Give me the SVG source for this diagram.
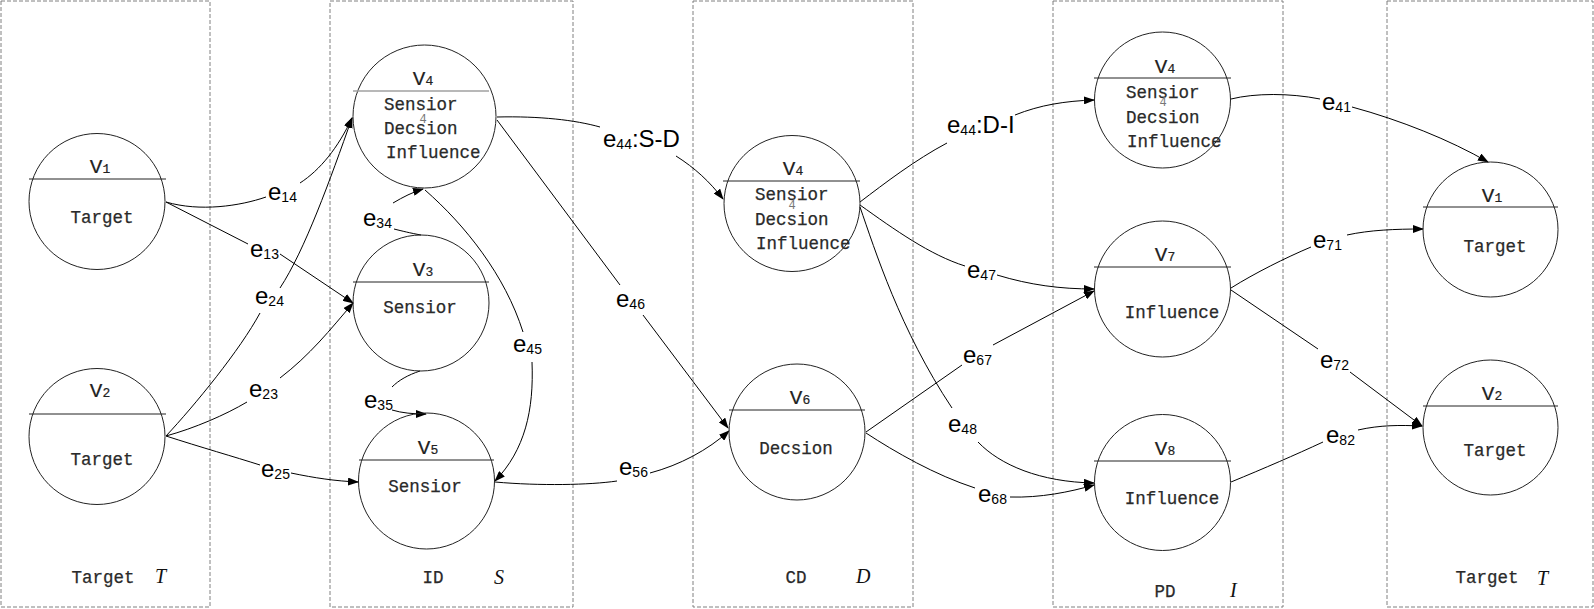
<svg xmlns="http://www.w3.org/2000/svg" width="1594" height="609" viewBox="0 0 1594 609">
<style>
.box{fill:none;stroke:#808080;stroke-width:1;stroke-dasharray:4 2}
.node{fill:#fff;stroke:#222;stroke-width:1}
.sep{stroke:#222;stroke-width:1}
.sepg{stroke:#a0a0a0;stroke-width:1.5}
.nt{font-family:"Liberation Mono",monospace;font-size:17.5px;fill:#2a2a2a;stroke:#2a2a2a;stroke-width:0.25}
.vl{font-family:"Liberation Mono",monospace;font-size:21px;fill:#222;stroke:#222;stroke-width:0.2}
.vs{font-size:13px}
.ov{font-family:"Liberation Mono",monospace;font-size:12px;fill:#777}
.it{font-family:"Liberation Serif",serif;font-style:italic;font-size:20px;fill:#111}
.el{font-family:"Liberation Sans",Arial,sans-serif;font-size:24px;fill:#000}
.es{font-size:14px}
.edge path{fill:none;stroke:#000;stroke-width:1}
</style>
<defs>
<marker id="ah" markerUnits="userSpaceOnUse" markerWidth="11" markerHeight="8" refX="10" refY="4" orient="auto">
<path d="M0,0 L11,4 L0,8 z" fill="#000"/>
</marker>
</defs>

<g id="boxes">
<rect class="box" x="1" y="1" width="209" height="606"/>
<rect class="box" x="330" y="1" width="243" height="606"/>
<rect class="box" x="693" y="1" width="220" height="606"/>
<rect class="box" x="1053" y="1" width="230" height="606"/>
<rect class="box" x="1387" y="1" width="206" height="606"/>
<text class="nt" x="103" y="583" text-anchor="middle">Target</text>
<text class="it" x="155" y="583">T</text>
<text class="nt" x="433" y="583" text-anchor="middle">ID</text>
<text class="it" x="494" y="584">S</text>
<text class="nt" x="796" y="583" text-anchor="middle">CD</text>
<text class="it" x="856" y="583">D</text>
<text class="nt" x="1165" y="597" text-anchor="middle">PD</text>
<text class="it" x="1230" y="597">I</text>
<text class="nt" x="1487" y="583" text-anchor="middle">Target</text>
<text class="it" x="1537" y="585">T</text>
</g>

<g id="connectors" class="edge">
<!-- e14 -->
<path d="M166,202 C200,212 240,206 266,197"/>
<path d="M300,183 C320,170 338,148 352,118" marker-end="url(#ah)"/>
<!-- e13 -->
<path d="M166,202 L248,244"/>
<path d="M280,254 L353,303" marker-end="url(#ah)"/>
<!-- e24 -->
<path d="M166,436 C195,405 240,350 260,313"/>
<path d="M280,288 C305,250 330,180 352,118" marker-end="url(#ah)"/>
<!-- e23 -->
<path d="M166,436 C195,428 225,415 247,402"/>
<path d="M280,378 C310,355 330,330 353,303" marker-end="url(#ah)"/>
<!-- e25 -->
<path d="M166,436 C200,447 235,457 260,465"/>
<path d="M291,473 C315,478 335,481 358,482" marker-end="url(#ah)"/>
<!-- e34 -->
<path d="M421,235 C410,233 402,231 394,229"/>
<path d="M393,203 C403,197 413,192 423,189" marker-end="url(#ah)"/>
<!-- e35 -->
<path d="M420,371 C408,375 399,380 392,387"/>
<path d="M392,410 C402,413 413,414 426,414" marker-end="url(#ah)"/>
<!-- e45 -->
<path d="M425,190 C465,225 505,275 523,332"/>
<path d="M532,362 C534,410 525,450 495,481" marker-end="url(#ah)"/>
<!-- e44:S-D -->
<path d="M497,117 C540,116 575,120 600,127"/>
<path d="M676,156 C695,168 710,182 723,199" marker-end="url(#ah)"/>
<!-- e46 -->
<path d="M497,120 L620,285"/>
<path d="M643,315 L728,428" marker-end="url(#ah)"/>
<!-- e56 -->
<path d="M495,482 C540,486 590,485 617,481"/>
<path d="M650,473 C680,465 708,450 729,431" marker-end="url(#ah)"/>
<!-- e44:D-I -->
<path d="M860,202 C885,183 915,160 947,143"/>
<path d="M1015,115 C1040,105 1065,101 1094,100" marker-end="url(#ah)"/>
<!-- e47 -->
<path d="M860,205 C895,230 930,255 965,266"/>
<path d="M997,275 C1030,285 1060,289 1094,289" marker-end="url(#ah)"/>
<!-- e48 -->
<path d="M860,207 C875,250 900,330 952,408"/>
<path d="M978,442 C1000,465 1040,482 1094,483" marker-end="url(#ah)"/>
<!-- e67 -->
<path d="M866,432 L962,365"/>
<path d="M993,345 L1094,291" marker-end="url(#ah)"/>
<!-- e68 -->
<path d="M866,433 C895,452 935,475 975,488"/>
<path d="M1010,497 C1040,498 1070,492 1094,485" marker-end="url(#ah)"/>
<!-- e41 -->
<path d="M1231,99 C1255,93 1290,93 1320,99"/>
<path d="M1352,107 C1400,120 1450,140 1488,162" marker-end="url(#ah)"/>
<!-- e71 -->
<path d="M1231,288 C1255,273 1285,258 1311,247"/>
<path d="M1347,235 C1370,230 1395,229 1423,229" marker-end="url(#ah)"/>
<!-- e72 -->
<path d="M1231,290 L1318,349"/>
<path d="M1350,372 L1422,426" marker-end="url(#ah)"/>
<!-- e82 -->
<path d="M1231,482 C1265,468 1295,455 1323,442"/>
<path d="M1358,430 C1380,425 1400,425 1422,426" marker-end="url(#ah)"/>
</g>

<g id="edge-labels">
<text class="el" x="268" y="200">e<tspan class="es" dy="2">14</tspan></text>
<text class="el" x="250" y="257">e<tspan class="es" dy="2">13</tspan></text>
<text class="el" x="255" y="304">e<tspan class="es" dy="2">24</tspan></text>
<text class="el" x="249" y="397">e<tspan class="es" dy="2">23</tspan></text>
<text class="el" x="261" y="477">e<tspan class="es" dy="2">25</tspan></text>
<text class="el" x="363" y="226">e<tspan class="es" dy="2">34</tspan></text>
<text class="el" x="364" y="408">e<tspan class="es" dy="2">35</tspan></text>
<text class="el" x="513" y="352">e<tspan class="es" dy="2">45</tspan></text>
<text class="el" x="603" y="147">e<tspan class="es" dy="2">44</tspan><tspan dy="-2">:S-D</tspan></text>
<text class="el" x="616" y="307">e<tspan class="es" dy="2">46</tspan></text>
<text class="el" x="619" y="475">e<tspan class="es" dy="2">56</tspan></text>
<text class="el" x="947" y="133">e<tspan class="es" dy="2">44</tspan><tspan dy="-2">:D-I</tspan></text>
<text class="el" x="967" y="278">e<tspan class="es" dy="2">47</tspan></text>
<text class="el" x="963" y="363">e<tspan class="es" dy="2">67</tspan></text>
<text class="el" x="948" y="432">e<tspan class="es" dy="2">48</tspan></text>
<text class="el" x="978" y="502">e<tspan class="es" dy="2">68</tspan></text>
<text class="el" x="1322" y="110">e<tspan class="es" dy="2">41</tspan></text>
<text class="el" x="1313" y="248">e<tspan class="es" dy="2">71</tspan></text>
<text class="el" x="1320" y="368">e<tspan class="es" dy="2">72</tspan></text>
<text class="el" x="1326" y="443">e<tspan class="es" dy="2">82</tspan></text>
</g>

<g id="node-V1-left">
<circle class="node" cx="97" cy="201.5" r="68"/>
<line class="sep" x1="29" y1="179" x2="166" y2="179"/>
<text class="vl" x="100" y="173" text-anchor="middle">V<tspan class="vs">1</tspan></text>
<text class="nt" x="102" y="223" text-anchor="middle">Target</text>
</g>
<g id="node-V2-left">
<circle class="node" cx="97" cy="436.5" r="68"/>
<line class="sep" x1="29" y1="414" x2="166" y2="414"/>
<text class="vl" x="100" y="397" text-anchor="middle">V<tspan class="vs">2</tspan></text>
<text class="nt" x="102" y="465" text-anchor="middle">Target</text>
</g>

<g id="node-V4-S">
<circle class="node" cx="424.5" cy="116.5" r="71.5" fill-opacity="0"/>
<line class="sepg" x1="353" y1="91" x2="489" y2="91"/>
<text class="vl" x="423" y="85" text-anchor="middle">V<tspan class="vs">4</tspan></text>
<text class="nt" x="384" y="110">Sensior</text>
<text class="ov" x="423" y="123" text-anchor="middle">4</text>
<text class="nt" x="384" y="134">Decsion</text>
<text class="nt" x="386" y="158">Influence</text>
</g>
<g id="node-V3">
<circle class="node" cx="421" cy="303" r="68" fill-opacity="0"/>
<line class="sep" x1="353" y1="282" x2="489" y2="282"/>
<text class="vl" x="423" y="276" text-anchor="middle">V<tspan class="vs">3</tspan></text>
<text class="nt" x="420" y="313" text-anchor="middle">Sensior</text>
</g>
<g id="node-V5">
<circle class="node" cx="426.5" cy="481" r="68" fill-opacity="0"/>
<line class="sep" x1="359" y1="460" x2="494" y2="460" stroke="#666"/>
<text class="vl" x="428" y="454" text-anchor="middle">V<tspan class="vs">5</tspan></text>
<text class="nt" x="425" y="492" text-anchor="middle">Sensior</text>
</g>

<g id="node-V4-D">
<circle class="node" cx="792" cy="203.5" r="68" fill-opacity="0"/>
<line class="sep" x1="723" y1="181" x2="860" y2="181"/>
<text class="vl" x="793" y="175" text-anchor="middle">V<tspan class="vs">4</tspan></text>
<text class="nt" x="755" y="200">Sensior</text>
<text class="ov" x="792" y="209" text-anchor="middle">4</text>
<text class="nt" x="755" y="225">Decsion</text>
<text class="nt" x="756" y="249">Influence</text>
</g>
<g id="node-V6">
<circle class="node" cx="797" cy="432" r="68" fill-opacity="0"/>
<line class="sep" x1="729" y1="410" x2="865" y2="410"/>
<text class="vl" x="800" y="404" text-anchor="middle">V<tspan class="vs">6</tspan></text>
<text class="nt" x="796" y="454" text-anchor="middle">Decsion</text>
</g>

<g id="node-V4-I">
<circle class="node" cx="1162.5" cy="100" r="68" fill-opacity="0"/>
<line class="sep" x1="1094" y1="78" x2="1231" y2="78"/>
<text class="vl" x="1165" y="73" text-anchor="middle">V<tspan class="vs">4</tspan></text>
<text class="nt" x="1126" y="98">Sensior</text>
<text class="ov" x="1163" y="106" text-anchor="middle">4</text>
<text class="nt" x="1126" y="123">Decsion</text>
<text class="nt" x="1127" y="147">Influence</text>
</g>
<g id="node-V7">
<circle class="node" cx="1162.5" cy="289" r="68" fill-opacity="0"/>
<line class="sep" x1="1094" y1="267" x2="1231" y2="267"/>
<text class="vl" x="1165" y="261" text-anchor="middle">V<tspan class="vs">7</tspan></text>
<text class="nt" x="1172" y="318" text-anchor="middle">Influence</text>
</g>
<g id="node-V8">
<circle class="node" cx="1162.5" cy="482.5" r="68" fill-opacity="0"/>
<line class="sep" x1="1094" y1="461" x2="1231" y2="461"/>
<text class="vl" x="1165" y="455" text-anchor="middle">V<tspan class="vs">8</tspan></text>
<text class="nt" x="1172" y="504" text-anchor="middle">Influence</text>
</g>

<g id="node-V1-right">
<circle class="node" cx="1490.5" cy="229.5" r="67.5" fill-opacity="0"/>
<line class="sep" x1="1423" y1="207" x2="1558" y2="207"/>
<text class="vl" x="1492" y="202" text-anchor="middle">V<tspan class="vs">1</tspan></text>
<text class="nt" x="1495" y="252" text-anchor="middle">Target</text>
</g>
<g id="node-V2-right">
<circle class="node" cx="1490.5" cy="427.5" r="67.5" fill-opacity="0"/>
<line class="sep" x1="1423" y1="406" x2="1558" y2="406"/>
<text class="vl" x="1492" y="400" text-anchor="middle">V<tspan class="vs">2</tspan></text>
<text class="nt" x="1495" y="456" text-anchor="middle">Target</text>
</g>
</svg>
